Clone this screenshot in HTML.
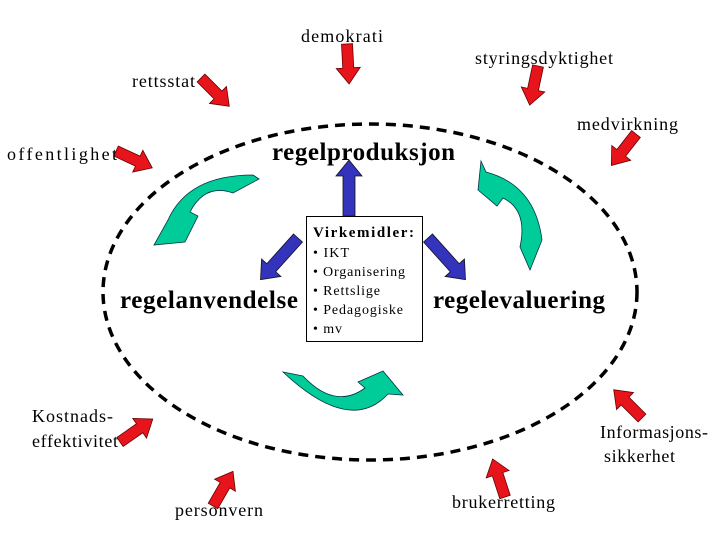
<!DOCTYPE html>
<html><head><style>
body{margin:0;background:#fff;}
svg{display:block;}
text{font-family:"Liberation Serif",serif;fill:#000;}
</style></head><body>
<svg width="720" height="540" viewBox="0 0 720 540">
<defs>
<g id="ra"><polygon points="-5.5,0 5.5,0 5.5,24 12,24 0,40 -12,24 -5.5,24" fill="#e8141b" stroke="#600" stroke-width="0.8"/></g>
<g id="ba"><polygon points="-6,0 6,0 6,40 13,40 0,56 -13,40 -6,40" fill="#3333bb" stroke="#112" stroke-width="0.8"/></g>
</defs>
<ellipse cx="370" cy="292" rx="267" ry="168" fill="none" stroke="#000" stroke-width="3.5" stroke-dasharray="10,7"/>

<use href="#ra" transform="translate(347,44) rotate(-3)"/>
<use href="#ra" transform="translate(201,78) rotate(-45)"/>
<use href="#ra" transform="translate(538,66) rotate(12)"/>
<use href="#ra" transform="translate(636,134) rotate(38)"/>
<use href="#ra" transform="translate(116,151) rotate(-65)"/>
<use href="#ra" transform="translate(120,442) rotate(-125)"/>
<use href="#ra" transform="translate(213,506) rotate(-150)"/>
<use href="#ra" transform="translate(505,497) rotate(162)"/>
<use href="#ra" transform="translate(642,418) rotate(135)"/>

<use href="#ba" transform="translate(349,216) rotate(180)"/>
<use href="#ba" transform="translate(298,238) rotate(42)"/>
<use href="#ba" transform="translate(428,238) rotate(-42)"/>

<path d="M253,175 L259,179 L233,193 Q205,183 190,212 L198,216 L185,242 L154,245 L168,220 Q188,175 253,175 Z" fill="#00cc99" stroke="#034" stroke-width="0.8"/>
<path d="M481,161 L486,172 Q535,185 542,240 L530,270 L520,247 Q528,210 503,198 L497,206 L478,190 Z" fill="#00cc99" stroke="#034" stroke-width="0.8"/>
<path d="M283,372 L303,376 Q335,410 365,388 L358,382 L383,371 L403,395 L388,394 Q350,435 283,372 Z" fill="#00cc99" stroke="#034" stroke-width="0.8"/>

<rect x="306.5" y="216.5" width="116" height="125" fill="#fff" stroke="#000" stroke-width="1"/>
<text x="313" y="237" font-size="15" font-weight="bold" textLength="101">Virkemidler:</text>
<text x="313" y="257" font-size="14" textLength="36">• IKT</text>
<text x="313" y="276" font-size="14" textLength="92">• Organisering</text>
<text x="313" y="295" font-size="14" textLength="67">• Rettslige</text>
<text x="313" y="314" font-size="14" textLength="90">• Pedagogiske</text>
<text x="313" y="333" font-size="14" textLength="29">• mv</text>

<g font-weight="bold" font-size="25">
<text x="272" y="160" textLength="183">regelproduksjon</text>
<text x="120" y="308" textLength="178">regelanvendelse</text>
<text x="433" y="308" textLength="172">regelevaluering</text>
</g>
<g font-size="18">
<text x="301" y="42" textLength="82">demokrati</text>
<text x="475" y="64" textLength="138">styringsdyktighet</text>
<text x="132" y="87" textLength="63">rettsstat</text>
<text x="577" y="130" textLength="101">medvirkning</text>
<text x="7" y="160" textLength="110">offentlighet</text>
<text x="32" y="422" textLength="81">Kostnads-</text>
<text x="32" y="447" textLength="86">effektivitet</text>
<text x="600" y="438" textLength="108">Informasjons-</text>
<text x="604" y="462" textLength="71">sikkerhet</text>
<text x="175" y="516" textLength="88">personvern</text>
<text x="452" y="508" textLength="103">brukerretting</text>
</g>
</svg>
</body></html>
